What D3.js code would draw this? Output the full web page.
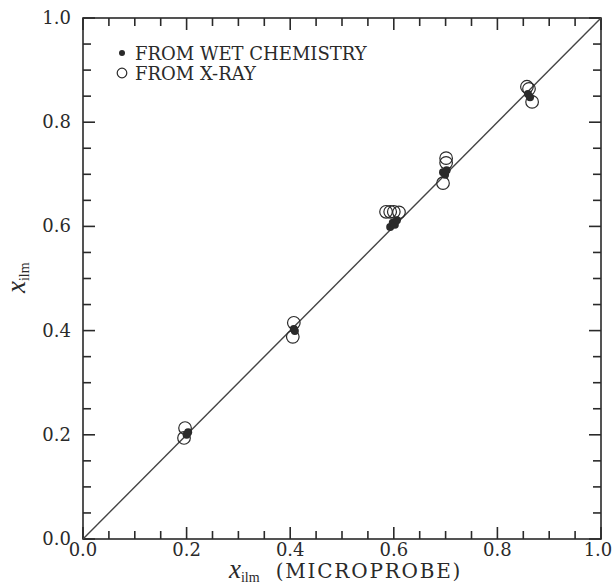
<!DOCTYPE html>
<html>
<head>
<meta charset="utf-8">
<script src="https://cdn.jsdelivr.net/npm/d3@7"></script>
<style>
  body { margin: 0; background: #fff; }
  svg { display: block; }
</style>
</head>
<body>
<svg id="chart" width="614" height="586"></svg>
<script>
// ---- data ----
const wetX  = [0.200, 0.203, 0.407, 0.409, 0.593, 0.598, 0.602, 0.606, 0.695, 0.699, 0.702, 0.859, 0.863];
const wetY  = [0.200, 0.205, 0.403, 0.399, 0.599, 0.607, 0.603, 0.612, 0.704, 0.699, 0.708, 0.854, 0.848];
const xrayX = [0.197, 0.195, 0.407, 0.405, 0.585, 0.593, 0.600, 0.610, 0.701, 0.701, 0.695, 0.857, 0.861, 0.867];
const xrayY = [0.213, 0.194, 0.415, 0.388, 0.628, 0.628, 0.628, 0.627, 0.731, 0.722, 0.683, 0.868, 0.864, 0.839];
const majorTicks = [0.0, 0.2, 0.4, 0.6, 0.8, 1.0];
const minorTicks = [0.05, 0.1, 0.15, 0.25, 0.3, 0.35, 0.45, 0.5, 0.55, 0.65, 0.7, 0.75, 0.85, 0.9, 0.95];
const legendLabels = ["FROM WET CHEMISTRY", "FROM X-RAY"];
const xTitle = "(MICROPROBE)";

// ---- layout ----
const L = 83, R = 601, T = 18, B = 539;
const svg = d3.select("#chart");
const x = d3.scaleLinear().domain([0, 1]).range([L, R]);
const y = d3.scaleLinear().domain([0, 1]).range([B, T]);
const ink = "#2a2a2a";
const font = "DejaVu Serif";
const minorLen = 8, majorLen = 12, tw = 1.6;

// frame
svg.append("rect").attr("x", L).attr("y", T).attr("width", R - L).attr("height", B - T)
  .attr("fill", "none").attr("stroke", ink).attr("stroke-width", 1.6);

// tick marks on all four sides, pointing inward
const allTicks = minorTicks.map(v => ({v, len: minorLen})).concat(majorTicks.map(v => ({v, len: majorLen})));
const tg = svg.append("g");
["b", "t", "l", "r"].forEach(side => {
  tg.selectAll("line." + side).data(allTicks).enter().append("line")
    .attr("class", side)
    .attr("x1", d => side === "l" ? L : side === "r" ? R : x(d.v))
    .attr("x2", d => side === "l" ? L + d.len : side === "r" ? R - d.len : x(d.v))
    .attr("y1", d => side === "b" ? B : side === "t" ? T : y(d.v))
    .attr("y2", d => side === "b" ? B - d.len : side === "t" ? T + d.len : y(d.v))
    .style("stroke", ink)
    .style("stroke-width", tw + "px");
});

// tick labels
const fmt = d3.format(".1f");
svg.append("g").selectAll("text").data(majorTicks).join("text")
  .attr("x", d => x(d)).attr("y", B + 17)
  .attr("dx", d => d === 1 ? -3 : 0)
  .attr("text-anchor", "middle")
  .attr("font-family", font).attr("font-size", 18).attr("fill", ink)
  .text(d => fmt(d));
svg.append("g").selectAll("text").data(majorTicks).join("text")
  .attr("x", L - 12).attr("y", d => y(d) + 6)
  .attr("text-anchor", "end")
  .attr("font-family", font).attr("font-size", 18).attr("fill", ink)
  .text(d => fmt(d));

// 1:1 line
svg.append("line")
  .attr("x1", x(0)).attr("y1", y(0)).attr("x2", x(1)).attr("y2", y(1))
  .attr("stroke", "#444").attr("stroke-width", 1.4);

// X-ray open circles
svg.append("g").selectAll("circle").data(d3.zip(xrayX, xrayY)).join("circle")
  .attr("cx", d => x(d[0])).attr("cy", d => y(d[1])).attr("r", 6.3)
  .attr("fill", "none").attr("stroke", ink).attr("stroke-width", 1.2);

// wet chemistry filled dots
svg.append("g").selectAll("circle").data(d3.zip(wetX, wetY)).join("circle")
  .attr("cx", d => x(d[0])).attr("cy", d => y(d[1])).attr("r", 4)
  .attr("fill", ink);

// legend
const lg = svg.append("g");
lg.append("circle").attr("cx", 122).attr("cy", 53).attr("r", 3).attr("fill", ink);
lg.append("circle").attr("cx", 122).attr("cy", 73).attr("r", 4.8).attr("fill", "none").attr("stroke", ink).attr("stroke-width", 1.2);
lg.selectAll("text").data(legendLabels).join("text")
  .attr("x", 135).attr("y", (d, i) => 60 + i * 20)
  .attr("font-family", font).attr("font-size", 18).attr("fill", ink)
  .text(d => d);

// x axis title
const xt = svg.append("text").attr("x", 229).attr("y", 578)
  .attr("font-family", font).attr("fill", ink);
xt.append("tspan").attr("font-family", "Liberation Serif").attr("font-style", "italic").attr("font-size", 27).text("x");
xt.append("tspan").attr("font-family", "Liberation Serif").attr("font-size", 14).attr("dy", 4).text("ilm");
xt.append("tspan").attr("font-size", 20).attr("dy", -4).attr("dx", 16).attr("letter-spacing", 1.8).text(xTitle);

// y axis title
const yt = svg.append("text").attr("transform", "translate(25,293) rotate(-90)")
  .attr("fill", ink);
yt.append("tspan").attr("font-family", "Liberation Serif").attr("font-style", "italic").attr("font-size", 27).text("x");
yt.append("tspan").attr("font-family", "Liberation Serif").attr("font-size", 14).attr("dy", 4).text("ilm");
</script>
</body>
</html>
